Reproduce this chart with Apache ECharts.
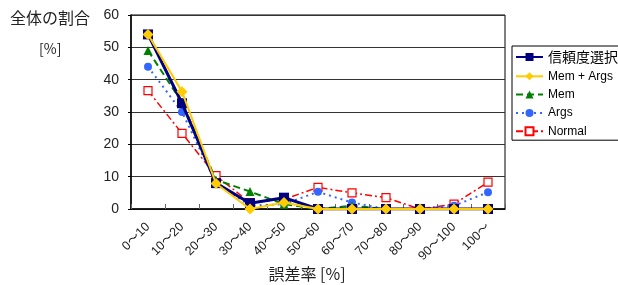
<!DOCTYPE html>
<html>
<head>
<meta charset="utf-8">
<script src="https://cdn.jsdelivr.net/npm/echarts@6/dist/echarts.min.js"></script>
<style>
  html, body { margin: 0; padding: 0; background: #fff; }
  #chart { width: 618px; height: 285px; }
</style>
</head>
<body>
<div id="chart"></div>
<script>
  var categories = ['0～10', '10～20', '20～30', '30～40', '40～50', '50～60', '60～70', '70～80', '80～90', '90～100', '100～']
  var trustData = [54, 32.7, 8, 1.8, 3.5, 0, 0, 0, 0, 0, 0]
  var memArgsData = [54, 36.3, 7.9, 0, 2, 0, 0, 0, 0, 0, 0]
  var memData = [49, 33, 9, 5.4, 1.5, 0, 1, 0, 0, 0, 0]
  var argsData = [44, 30, 8, 1, 1.5, 5.3, 2, 0, 0, 1, 5.2]
  var normalData = [36.6, 23.4, 10.3, 2, 3, 6.7, 5, 3.5, 0, 1.5, 8.3]
  var yTicks = [0, 10, 20, 30, 40, 50, 60]

  var font = "'Liberation Sans', 'Noto Sans CJK JP', sans-serif"
  var chart = echarts.init(document.getElementById('chart'))

  chart.setOption({
    backgroundColor: '#fff',
    animation: false,
    textStyle: { fontFamily: font },
    graphic: [
      { type: 'text', left: 10, top: 10, style: { text: '全体の割合', font: "16px 'Noto Sans CJK JP'", fill: '#222' } },
      { type: 'text', left: 39, top: 42, style: { text: '[%]', font: "14px 'Noto Sans CJK JP'", fill: '#222' } }
    ],
    grid: {
      left: 131, right: 113, top: 15, bottom: 76,
      outerBoundsMode: 'none',
      show: true, borderColor: '#000', borderWidth: 1
    },
    legend: {
      orient: 'vertical',
      left: 512, top: 46,
      data: ['信頼度選択', 'Mem + Args', 'Mem', 'Args', 'Normal'],
      itemWidth: 27, itemHeight: 10, itemGap: 6.3,
      borderColor: '#000', borderWidth: 1, padding: [4, 20, 3, 3],
      formatter: function (name) {
        return name === '信頼度選択' ? '{big|' + name + '}' : '{sm|' + name + '}'
      },
      textStyle: {
        color: '#000',
        rich: {
          big: { fontSize: 14, fontFamily: 'Noto Sans CJK JP', lineHeight: 12 },
          sm: { fontSize: 12, fontFamily: font, lineHeight: 12 }
        }
      }
    },
    xAxis: {
      type: 'category',
      data: categories,
      name: '誤差率 [%]',
      nameLocation: 'middle',
      nameGap: 57,
      nameMoveOverlap: false,
      nameTextStyle: { fontSize: 16, fontFamily: 'Noto Sans CJK JP', color: '#222', padding: [0, 22, 0, 0] },
      axisLine: { lineStyle: { color: '#000', width: 1.5 } },
      axisTick: { show: true, inside: true, length: 5, lineStyle: { color: '#666' } },
      axisLabel: { rotate: 45, margin: 16, fontSize: 12.5, color: '#222', interval: 0 },
      splitLine: { show: false }
    },
    yAxis: {
      type: 'value',
      min: yTicks[0], max: yTicks[yTicks.length - 1], interval: 10,
      axisLine: { show: true, lineStyle: { color: '#000', width: 1.5 } },
      axisTick: { show: true, length: 3, lineStyle: { color: '#000' } },
      axisLabel: { fontSize: 14, color: '#222', margin: 12 },
      splitLine: { show: true, lineStyle: { color: '#333', width: 1 } }
    },
    series: [
      {
        name: '信頼度選択', type: 'line', data: trustData, z: 5,
        symbol: 'rect', symbolSize: 10,
        lineStyle: { color: '#000080', width: 3 },
        itemStyle: { color: '#000080' }
      },
      {
        name: 'Mem + Args', type: 'line', data: memArgsData, z: 6,
        symbol: 'diamond', symbolSize: 11,
        lineStyle: { color: '#ffcc00', width: 2 },
        itemStyle: { color: '#ffcc00' }
      },
      {
        name: 'Mem', type: 'line', data: memData, z: 4,
        symbol: 'triangle', symbolSize: 9,
        lineStyle: { color: '#008000', width: 2, type: [7, 4] },
        itemStyle: { color: '#008000' }
      },
      {
        name: 'Args', type: 'line', data: argsData, z: 3,
        symbol: 'circle', symbolSize: 8,
        lineStyle: { color: '#3366ff', width: 2, type: [2, 4] },
        itemStyle: { color: '#3366ff' }
      },
      {
        name: 'Normal', type: 'line', data: normalData, z: 2,
        symbol: 'rect', symbolSize: 8,
        lineStyle: { color: '#ff0000', width: 1.5, type: [7, 3, 2, 3] },
        itemStyle: { color: '#fff', borderColor: '#ff0000', borderWidth: 1.2 }
      }
    ]
  })
</script>
</body>
</html>
